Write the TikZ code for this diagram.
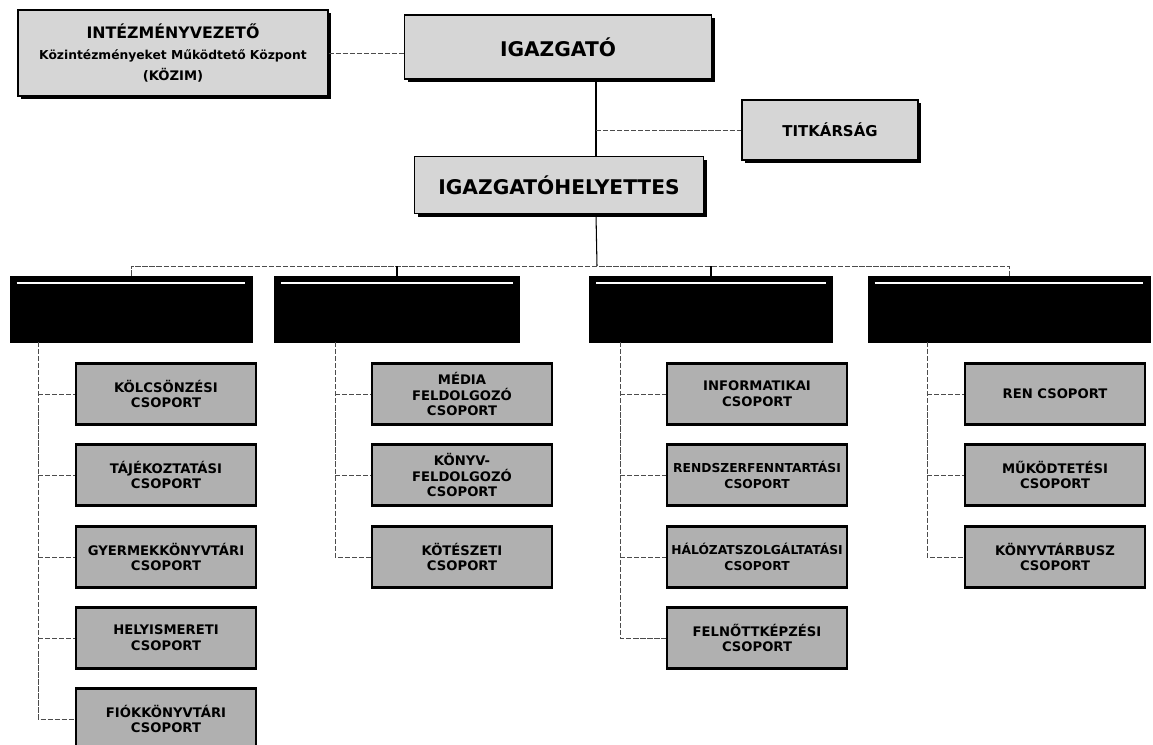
\documentclass[tikz,border=0pt]{standalone}
\usepackage{fontspec}
\setmainfont{DejaVu Sans}
\usetikzlibrary{shadows}

\tikzset{
	topbox/.style={draw=black, line width=0.8pt, fill=gray!32, align=center, inner sep=2pt,
		font=\fontsize{11.5}{13}\selectfont\bfseries,
		drop shadow={shadow xshift=1.8pt, shadow yshift=-1.8pt, fill=black, opacity=1}},
	headbox/.style={draw=black, fill=black, minimum height=1.32cm},
	groupbox/.style={draw=black, line width=1.6pt, fill=gray!62, align=center,
		minimum width=3.6cm, minimum height=1.22cm, inner sep=1pt,
		font=\fontsize{7.5}{9}\selectfont\bfseries},
	link/.style={gray!60!black, line width=0.5pt, dash pattern=on 3pt off 1pt},
	mainlink/.style={black, line width=0.6pt}
}

\begin{document}
\begin{tikzpicture}[x=0.02cm, y=-0.02cm]
		\useasboundingbox (0,0) rectangle (1153,744);
		% felső szint
		\node[topbox, minimum width=6.2cm, minimum height=1.72cm] (intvez) at (173,53)
			{{\fontsize{9}{11}\selectfont INTÉZMÉNYVEZETŐ}\\[-1pt]
			 {\fontsize{7}{9}\selectfont Közintézményeket Működtető Központ}\\[-1pt]
			 {\fontsize{7.5}{9}\selectfont (KÖZIM)}};
		\node[topbox, minimum width=6.14cm, minimum height=1.28cm] (igazgato) at (558,47) {IGAZGATÓ};
		\node[topbox, minimum width=3.52cm, minimum height=1.2cm, font=\fontsize{8.5}{10}\selectfont\bfseries] (titkar) at (830,130) {TITKÁRSÁG};
		\node[topbox, minimum width=5.78cm, minimum height=1.14cm] (ighely) at (559,185) {IGAZGATÓHELYETTES};
		% osztályok
		\node[headbox, minimum width=4.84cm] (csop1) at (131,309) {};
		\node[headbox, minimum width=4.9cm] (csop2) at (397,309) {};
		\node[headbox, minimum width=4.86cm] (csop3) at (711,309) {};
		\node[headbox, minimum width=5.64cm] (csop4) at (1009,309) {};
		\foreach \c in {csop1,csop2,csop3,csop4}
			\draw [white, line width=1pt] ([shift={(7,7)}]\c.north west) -- ([shift={(-7,7)}]\c.north east);
		% csoportok
		\node[groupbox] (k1) at (166,394) {KÖLCSÖNZÉSI\\CSOPORT};
		\node[groupbox] (k2) at (166,475) {TÁJÉKOZTATÁSI\\CSOPORT};
		\node[groupbox] (k3) at (166,557) {GYERMEKKÖNYVTÁRI\\CSOPORT};
		\node[groupbox] (k4) at (166,638) {HELYISMERETI\\CSOPORT};
		\node[groupbox] (k5) at (166,719) {FIÓKKÖNYVTÁRI\\CSOPORT};
		\node[groupbox] (m1) at (462,394) {MÉDIA\\FELDOLGOZÓ\\CSOPORT};
		\node[groupbox] (m2) at (462,475) {KÖNYV-\\FELDOLGOZÓ\\CSOPORT};
		\node[groupbox] (m3) at (462,557) {KÖTÉSZETI\\CSOPORT};
		\node[groupbox] (i1) at (757,394) {INFORMATIKAI\\CSOPORT};
		\node[groupbox, font=\fontsize{7}{9}\selectfont\bfseries] (i2) at (757,475) {RENDSZERFENNTARTÁSI\\CSOPORT};
		\node[groupbox, font=\fontsize{7}{9}\selectfont\bfseries] (i3) at (757,557) {HÁLÓZATSZOLGÁLTATÁSI\\CSOPORT};
		\node[groupbox] (i4) at (757,638) {FELNŐTTKÉPZÉSI\\CSOPORT};
		\node[groupbox] (g1) at (1055,394) {REN CSOPORT};
		\node[groupbox] (g2) at (1055,475) {MŰKÖDTETÉSI\\CSOPORT};
		\node[groupbox] (g3) at (1055,557) {KÖNYVTÁRBUSZ\\CSOPORT};
		% vonalak
		\coordinate (vx) at ([xshift=0.76cm]igazgato.south);
		\coordinate (bus) at (597,266);
		\draw [link] (intvez.east) -- (intvez.east -| igazgato.west);
		\draw [mainlink] (vx) -- (vx |- ighely.north);
		\draw [link] (vx |- titkar.west) -- (titkar.west);
		\draw [mainlink] (vx |- ighely.south) -- (bus);
		\draw [link] (csop1.north) -- (csop1.north |- bus) -- (csop4.north |- bus) -- (csop4.north);
		\draw [mainlink] (csop2.north |- bus) -- (csop2.north);
		\draw [mainlink] (csop3.north |- bus) -- (csop3.north);
		\coordinate (s1) at (38,342);
		\coordinate (s2) at (335,342);
		\coordinate (s3) at (620,342);
		\coordinate (s4) at (927,342);
		\draw [link] (s1) |- (k5.west);
		\foreach \n in {1,...,4}
			\draw [link] (s1 |- k\n.west) -- (k\n.west);
		\draw [link] (s2) |- (m3.west);
		\foreach \n in {1,2}
			\draw [link] (s2 |- m\n.west) -- (m\n.west);
		\draw [link] (s3) |- (i4.west);
		\foreach \n in {1,2,3}
			\draw [link] (s3 |- i\n.west) -- (i\n.west);
		\draw [link] (s4) |- (g3.west);
		\foreach \n in {1,2}
			\draw [link] (s4 |- g\n.west) -- (g\n.west);
	\end{tikzpicture}
\end{document}
